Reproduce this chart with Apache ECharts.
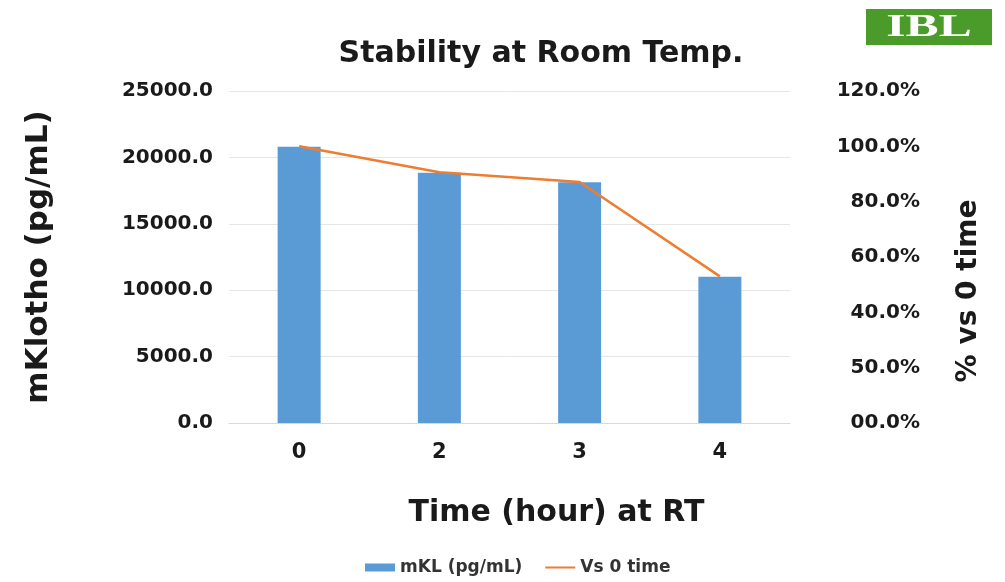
<!DOCTYPE html>
<html><head><meta charset="utf-8">
<script src="https://cdn.jsdelivr.net/npm/echarts@6/dist/echarts.min.js"></script>
<style>html,body{margin:0;padding:0;background:#fff}#c{width:1005px;height:582px}</style>
</head><body><div id="c"></div>
<script>
const categories = ['0', '2', '3', '4'];
const mklValues = [20800, 18850, 18120, 11020];
const vsZeroValues = [1.0, 0.906, 0.871, 0.53];
const leftTicks = [0, 5000, 10000, 15000, 20000, 25000];
const rightTickLabels = ['00.0%', '50.0%', '40.0%', '60.0%', '80.0%', '100.0%', '120.0%'];

const F = 'DejaVu Sans';
const chart = echarts.init(document.getElementById('c'));
chart.setOption({
  backgroundColor: '#fff',
  animation: false,
  title: {
    text: 'Stability at Room Temp.', left: 536, top: 34, textAlign: 'center',
    textStyle: { fontFamily: F, fontWeight: 'bold', fontSize: 30, color: '#1a1a1a' }
  },
  graphic: [
    { type: 'rect', shape: { x: 866, y: 9, width: 126, height: 36 }, style: { fill: '#4b9b2b' } },
    { type: 'text', x: 929, y: 28, scaleX: 1.6, style: { text: 'IBL', fill: '#fff', font: 'bold 31px "Liberation Serif"', align: 'center', verticalAlign: 'middle' } }
  ],
  legend: {
    bottom: 1, left: 360, itemGap: 22, itemWidth: 30, itemHeight: 8,
    textStyle: { fontFamily: F, fontWeight: 'bold', fontSize: 17, color: '#333' },
    data: [
      { name: 'mKL (pg/mL)', icon: 'rect' },
      { name: 'Vs 0 time', itemStyle: { opacity: 0, color: 'transparent', borderWidth: 0 } }
    ]
  },
  grid: { left: 229, right: 215, top: 91, bottom: 159 },
  xAxis: {
    type: 'category', data: categories,
    axisTick: { show: false },
    axisLine: { lineStyle: { color: '#d9d9d9' } },
    axisLabel: { fontFamily: F, fontWeight: 'bold', fontSize: 21, color: '#1a1a1a', margin: 19 },
    name: 'Time (hour) at RT', nameLocation: 'middle', nameGap: 75,
    nameTextStyle: { fontFamily: F, fontWeight: 'bold', fontSize: 30, color: '#1a1a1a', padding: [0, 0, 0, 94] }
  },
  yAxis: [
    {
      type: 'value', min: 0, max: 25000, interval: 5000,
      axisLine: { show: false }, axisTick: { show: false },
      splitLine: { lineStyle: { color: '#e6e6e6' } },
      axisLabel: { fontFamily: F, fontWeight: 'bold', fontSize: 20, color: '#1a1a1a', margin: 16,
        formatter: v => v.toFixed(1) },
      name: 'mKlotho (pg/mL)', nameLocation: 'middle', nameGap: 175, nameRotate: 90,
      nameTextStyle: { fontFamily: F, fontWeight: 'bold', fontSize: 31, color: '#1a1a1a' }
    },
    {
      type: 'value', min: 0, max: 1.2, interval: 0.2, position: 'right',
      axisLine: { show: false }, axisTick: { show: false }, splitLine: { show: false },
      axisLabel: { fontFamily: F, fontWeight: 'bold', fontSize: 20, color: '#1a1a1a', margin: 130, align: 'right',
        formatter: v => rightTickLabels[Math.round(v / 0.2)] },
      name: '% vs 0 time', nameLocation: 'middle', nameGap: 165, nameRotate: 90,
      nameTextStyle: { fontFamily: F, fontWeight: 'bold', fontSize: 28, color: '#1a1a1a', padding: [0, 68, 0, 0] }
    }
  ],
  series: [
    { name: 'mKL (pg/mL)', type: 'bar', data: mklValues, barWidth: 43, itemStyle: { color: '#5b9bd5' } },
    { name: 'Vs 0 time', type: 'line', yAxisIndex: 1, data: vsZeroValues, symbol: 'none',
      lineStyle: { color: '#ed7d31', width: 2.5 }, itemStyle: { color: '#ed7d31' } }
  ]
});
</script></body></html>
